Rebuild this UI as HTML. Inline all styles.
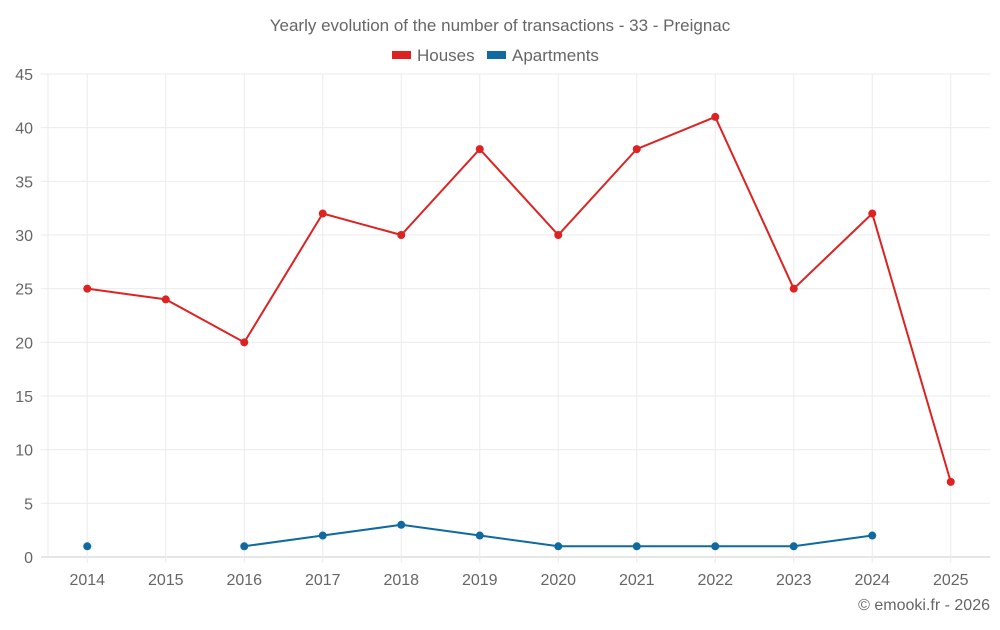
<!DOCTYPE html>
<html><head><meta charset="utf-8"><style>
body{margin:0;background:#fff;font-family:"Liberation Sans",sans-serif}
svg text{font-family:"Liberation Sans",sans-serif;fill:#666}
</style></head><body>
<svg id="c" width="1000" height="625">
<text x="500" y="31" text-anchor="middle" font-size="17">Yearly evolution of the number of transactions - 33 - Preignac</text>
<g>
<g><rect x="392" y="51" width="19" height="8" fill="#dd2222"/><text x="417" y="61" font-size="17">Houses</text></g>
<g><rect x="487" y="51" width="19" height="8" fill="#0e6aa0"/><text x="512" y="61" font-size="17">Apartments</text></g>
</g>
<text x="990" y="610" text-anchor="end" font-size="16">© emooki.fr - 2026</text>
<g id="grid"></g><g id="marks"></g>
</svg>
<script>
const years=["2014","2015","2016","2017","2018","2019","2020","2021","2022","2023","2024","2025"];
const houses=[25,24,20,32,30,38,30,38,41,25,32,7];
const apartments=[1,null,1,2,3,2,1,1,1,1,2,null];
const yTicks=[0,5,10,15,20,25,30,35,40,45];
const L=48,R=990,T=74,B=557,yMax=45;
const bw=(R-L)/years.length;
const x=i=>L+bw*(i+0.5);
const y=v=>B-(B-T)*v/yMax;
const NS="http://www.w3.org/2000/svg";
const g=document.getElementById('grid'),m=document.getElementById('marks');
function mk(p,tag,a){const e=document.createElementNS(NS,tag);for(const k in a)e.setAttribute(k,a[k]);p.appendChild(e);return e;}
yTicks.forEach(t=>{
 const l=mk(g,'line',{x1:41,x2:R,y1:y(t),y2:y(t),stroke:t===0?'#ccc':'#ebebeb'});
 
 
 const tx=mk(g,'text',{x:33,y:y(t)+6,'text-anchor':'end','font-size':16});tx.textContent=t;
 
 
});
mk(g,'line',{x1:L,x2:L,y1:T,y2:B,stroke:'#ebebeb'});
years.forEach((yr,i)=>{
 const l=mk(g,'line',{x1:x(i),x2:x(i),y1:T,y2:B+6,stroke:'#ebebeb'});
 
 
 const tx=mk(g,'text',{x:x(i),y:585,'text-anchor':'middle','font-size':16});tx.textContent=yr;
 
 
});
function series(data,color,name){
 let segs=[],cur=[];
 data.forEach((v,i)=>{if(v==null){if(cur.length)segs.push(cur);cur=[];}else cur.push(x(i)+','+y(v));});
 if(cur.length)segs.push(cur);
 segs.forEach(s=>{if(s.length>1){const p=mk(m,'polyline',{points:s.join(' '),fill:'none',stroke:color,'stroke-width':2});
  
  }});
 data.forEach((v,i)=>{if(v==null)return;const c=mk(m,'circle',{cx:x(i),cy:y(v),r:4,fill:color});
  
  });
}
series(houses,'#dd2222','houses');
series(apartments,'#0e6aa0','apartments');
</script>
</body></html>
